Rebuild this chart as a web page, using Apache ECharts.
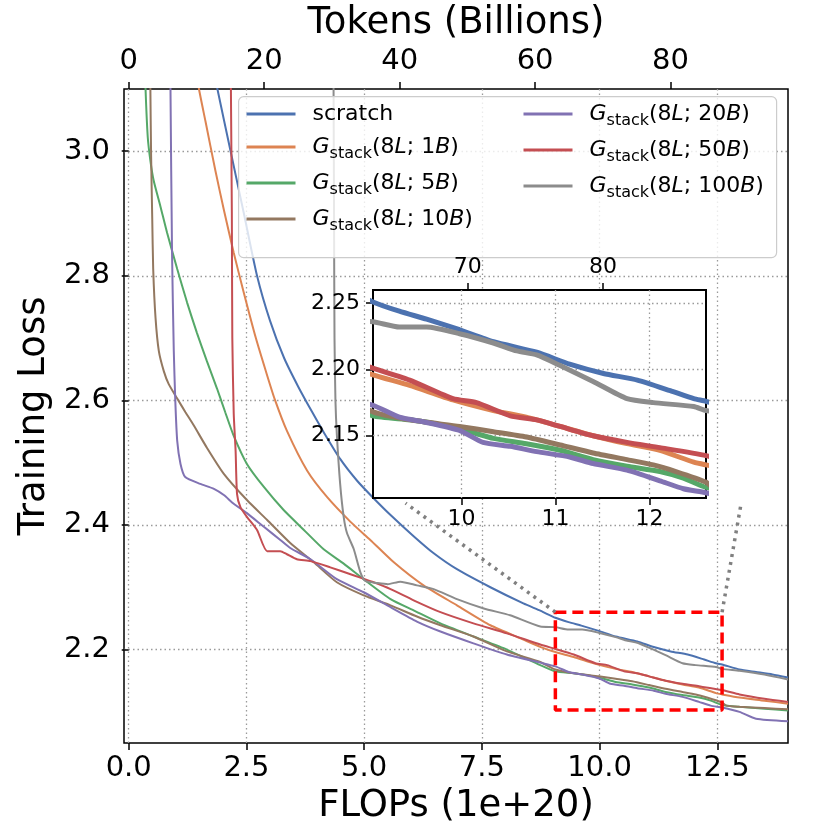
<!DOCTYPE html>
<html lang="en">
<head>
<meta charset="UTF-8">
<title>Training Loss vs FLOPs</title>
<script src="https://cdn.jsdelivr.net/npm/echarts@6/dist/echarts.min.js"></script>
<style>
    html, body { margin: 0; background: #fff; }
    #chart { width: 830px; height: 830px; }
</style>
</head>
<body>
<div id="chart"></div>
<script>
// curves: [FLOPs (1e+20), training loss]
const scratch = [[1.60,3.20],[1.88,3.101],[2.16,3.001],[2.44,2.902],[2.725,2.800],[3.0,2.728],[3.3,2.668],[3.6,2.622],[3.89,2.582],[4.14,2.549],[4.49,2.506],[4.85,2.471],[5.20,2.443],[5.56,2.416],[6.05,2.382],[6.47,2.355],[6.97,2.329],[7.68,2.300],[8.38,2.274],[8.75,2.262],[9.06,2.251],[9.34,2.244],[9.63,2.238],[9.98,2.230],[10.34,2.221],[10.80,2.213],[11.15,2.204],[11.51,2.197],[11.87,2.192],[12.22,2.184],[12.47,2.178],[12.60,2.176],[12.97,2.168],[13.32,2.164],[13.67,2.160],[14.0,2.155]];
const g1B = [[1.30,3.20],[1.49,3.101],[1.63,3.048],[1.84,2.969],[2.02,2.906],[2.23,2.837],[2.44,2.774],[2.70,2.700],[2.94,2.640],[3.10,2.602],[3.36,2.551],[3.79,2.487],[4.21,2.445],[4.71,2.405],[5.13,2.376],[5.63,2.340],[6.26,2.303],[6.97,2.271],[7.68,2.239],[8.38,2.216],[8.75,2.204],[9.06,2.196],[9.45,2.188],[9.91,2.177],[10.34,2.169],[10.69,2.164],[11.05,2.157],[11.40,2.150],[11.76,2.144],[12.11,2.139],[12.47,2.130],[12.60,2.128],[12.97,2.123],[13.5,2.118],[14.0,2.113]];
const g5B = [[0.32,3.20],[0.357,3.101],[0.405,3.022],[0.46,2.985],[0.53,2.953],[0.675,2.911],[0.815,2.869],[1.03,2.811],[1.24,2.757],[1.45,2.708],[1.66,2.663],[1.875,2.619],[2.05,2.581],[2.23,2.543],[2.51,2.498],[2.87,2.461],[3.29,2.424],[3.72,2.392],[4.14,2.361],[4.565,2.338],[4.99,2.313],[5.56,2.281],[6.05,2.263],[6.62,2.242],[7.32,2.221],[8.03,2.200],[8.74,2.175],[9.06,2.165],[9.45,2.162],[9.80,2.158],[10.09,2.153],[10.34,2.148],[10.69,2.144],[11.05,2.139],[11.40,2.132],[11.76,2.127],[12.11,2.123],[12.36,2.118],[12.60,2.111],[12.97,2.108],[13.5,2.105],[14.0,2.102]];
const g10B = [[0.45,3.20],[0.46,3.101],[0.475,2.996],[0.50,2.890],[0.52,2.811],[0.57,2.732],[0.64,2.679],[0.745,2.647],[0.85,2.626],[1.03,2.603],[1.205,2.581],[1.38,2.560],[1.66,2.524],[2.02,2.482],[2.51,2.440],[2.94,2.408],[3.43,2.371],[3.93,2.340],[4.42,2.308],[4.99,2.287],[5.56,2.271],[6.12,2.253],[6.62,2.239],[7.32,2.221],[8.03,2.197],[8.74,2.180],[9.06,2.168],[9.45,2.162],[9.98,2.157],[10.34,2.153],[10.69,2.149],[11.05,2.143],[11.40,2.137],[11.76,2.132],[12.04,2.128],[12.28,2.123],[12.60,2.115],[12.69,2.110],[12.97,2.108],[13.5,2.106],[14.0,2.104]];
const g20B = [[0.88,3.20],[0.887,3.101],[0.92,2.837],[0.957,2.680],[0.99,2.598],[1.03,2.535],[1.10,2.498],[1.20,2.477],[1.52,2.466],[1.81,2.458],[2.02,2.448],[2.23,2.434],[2.51,2.419],[2.87,2.397],[3.22,2.376],[3.43,2.363],[3.86,2.345],[4.42,2.313],[4.99,2.292],[5.56,2.268],[6.12,2.245],[6.62,2.229],[7.32,2.210],[8.03,2.192],[8.74,2.179],[9.06,2.173],[9.34,2.164],[9.63,2.160],[9.98,2.154],[10.23,2.145],[10.52,2.142],[10.80,2.138],[11.15,2.134],[11.40,2.129],[11.76,2.124],[12.11,2.116],[12.36,2.110],[12.60,2.107],[12.97,2.100],[13.32,2.089],[14.0,2.085]];
const g50B = [[2.16,3.20],[2.17,3.101],[2.19,2.900],[2.20,2.700],[2.23,2.579],[2.27,2.519],[2.30,2.450],[2.37,2.429],[2.51,2.413],[2.725,2.392],[2.94,2.358],[3.22,2.358],[3.36,2.353],[3.57,2.345],[3.86,2.342],[4.28,2.332],[4.71,2.321],[5.20,2.308],[5.56,2.297],[6.05,2.279],[6.62,2.260],[7.32,2.242],[8.03,2.226],[8.74,2.208],[9.06,2.201],[9.45,2.192],[9.91,2.178],[10.16,2.175],[10.52,2.165],[10.80,2.162],[11.05,2.157],[11.40,2.150],[11.76,2.145],[12.11,2.141],[12.60,2.135],[12.97,2.128],[13.5,2.121],[14.0,2.116]];
const g100B = [[4.34,3.20],[4.35,3.101],[4.36,2.900],[4.37,2.700],[4.39,2.600],[4.42,2.545],[4.49,2.466],[4.565,2.413],[4.635,2.387],[4.78,2.361],[4.92,2.324],[5.025,2.310],[5.27,2.307],[5.50,2.305],[5.77,2.309],[6.12,2.303],[6.475,2.297],[6.97,2.281],[7.54,2.266],[8.10,2.255],[8.74,2.237],[9.06,2.236],[9.34,2.232],[9.63,2.232],[9.98,2.227],[10.34,2.220],[10.59,2.214],[10.80,2.211],[11.05,2.203],[11.40,2.191],[11.76,2.178],[12.04,2.175],[12.47,2.172],[12.60,2.169],[12.97,2.166],[13.5,2.160],[14.0,2.152]];

const curves = [scratch, g1B, g5B, g10B, g20B, g50B, g100B];
const names = ['scratch', 'G(8L; 1B)', 'G(8L; 5B)', 'G(8L; 10B)', 'G(8L; 20B)', 'G(8L; 50B)', 'G(8L; 100B)'];
const colors = ['#4C72B0', '#DD8452', '#55A868', '#937860', '#8172B3', '#C44E52', '#8C8C8C'];

// axis ticks
const flopTicks = [0, 2.5, 5, 7.5, 10, 12.5];
const lossTicks = [2.2, 2.4, 2.6, 2.8, 3.0];
const tokenTicks = [0, 20, 40, 60, 80];
const insetFlopTicks = [10, 11, 12];
const insetLossTicks = [2.15, 2.20, 2.25];
const insetTokenTicks = [70, 80];

// ranges
const flopRange = [-0.1, 14.0];
const lossRange = [2.05, 3.1];
const insetX = [9.06, 12.6];
const insetY = [2.103, 2.26];
const tokensPerFlop = 6.953; // billions of tokens per 1e20 FLOPs

const FONT = 'DejaVu Sans';
const chart = echarts.init(document.getElementById('chart'));

function axis(opt) {
    const fs = opt.fontSize;
    return {
        type: 'value',
        gridIndex: opt.grid,
        position: opt.position,
        min: opt.min,
        max: opt.max,
        z: opt.z || 0,
        axisLine: { show: false },
        axisTick: { show: true, inside: false, length: 7, customValues: opt.ticks,
            lineStyle: { color: '#000', width: 1.5 } },
        axisLabel: { customValues: opt.ticks, formatter: opt.fmt, margin: opt.margin,
            fontSize: fs, color: '#000', fontFamily: FONT },
        splitLine: { show: !!opt.grid_lines,
            lineStyle: { color: '#9a9a9a', width: 1.3, type: [1.5, 3] } },
        name: opt.name || '',
        nameLocation: 'middle',
        nameGap: opt.nameGap || 0,
        nameTextStyle: { fontSize: 37, color: '#000', fontFamily: FONT }
    };
}

const series = [];
curves.forEach(function (d, i) {
    series.push({
        type: 'line', name: names[i], data: d, xAxisIndex: 0, yAxisIndex: 0,
        symbol: 'none', z: 2, clip: true, smooth: 0.2,
        lineStyle: { color: colors[i], width: 2 }, itemStyle: { color: colors[i] }
    });
});
curves.forEach(function (d, i) {
    series.push({
        type: 'line', name: names[i], data: d, xAxisIndex: 2, yAxisIndex: 1,
        symbol: 'none', z: 12, clip: true, smooth: 0.2,
        lineStyle: { color: colors[i], width: 5 }, itemStyle: { color: colors[i] }
    });
});

// zoomed region marked on the main axes
series.push({
    type: 'line', name: 'zoom', xAxisIndex: 0, yAxisIndex: 0, symbol: 'none', z: 3,
    data: [[insetX[0], insetY[1]], [insetX[1], insetY[1]], [insetX[1], insetY[0]],
           [insetX[0], insetY[0]], [insetX[0], insetY[1]]],
    lineStyle: { color: '#ff0000', width: 3.5, type: [11, 6] },
    markLine: {
        silent: true, symbol: ['none', 'none'], label: { show: false },
        lineStyle: { color: '#808080', width: 3.5, type: [3, 5] },
        data: [
            [{ coord: [insetX[0], insetY[1]] }, { coord: [5.88, 2.435] }],
            [{ coord: [insetX[1], insetY[1]] }, { coord: [13.01, 2.437] }]
        ]
    }
});

const rich = {
    n: { fontSize: 22, fontFamily: FONT, color: '#000', lineHeight: 30 },
    i: { fontSize: 22, fontFamily: FONT, fontStyle: 'italic', color: '#000', lineHeight: 30 },
    s: { fontSize: 16, fontFamily: FONT, color: '#000', lineHeight: 30, verticalAlign: 'bottom' }
};
function legendLabel(name) {
    if (name === 'scratch') return '{n|scratch}';
    const size = name.match(/; (\d+)B/)[1];
    return '{i|G}{s|stack}{n|(8}{i|L}{n|; ' + size + '}{i|B}{n|)}';
}
function legend(data, left) {
    return {
        data: data, left: left, top: 102, orient: 'vertical', padding: 0,
        itemWidth: 49, itemHeight: 30, itemGap: 9, selectedMode: false, z: 6,
        itemStyle: { opacity: 0 },
        lineStyle: { width: 3 },
        formatter: legendLabel,
        textStyle: { rich: rich, padding: [0, 0, 0, 12] }
    };
}

const option = {
    backgroundColor: '#fff',
    animation: false,
    grid: [
        { left: 124, top: 82, width: 664, height: 666, show: true,
          borderColor: '#000', borderWidth: 1.5, backgroundColor: 'transparent' },
        { left: 373, top: 290, width: 333, height: 208, show: true, z: 10,
          borderColor: '#000', borderWidth: 2, backgroundColor: '#fff' }
    ],
    xAxis: [
        axis({ grid: 0, position: 'bottom', min: flopRange[0], max: flopRange[1], ticks: flopTicks,
               fmt: v => v.toFixed(1), fontSize: 29, margin: 11, grid_lines: true,
               name: 'FLOPs (1e+20)', nameGap: 45 }),
        axis({ grid: 0, position: 'top', min: flopRange[0] * tokensPerFlop, max: flopRange[1] * tokensPerFlop,
               ticks: tokenTicks, fmt: v => String(v), fontSize: 29, margin: 13,
               name: 'Tokens (Billions)', nameGap: 46 }),
        axis({ grid: 1, position: 'bottom', min: insetX[0], max: insetX[1], ticks: insetFlopTicks,
               fmt: v => String(v), fontSize: 22, margin: 10, grid_lines: true, z: 11 }),
        axis({ grid: 1, position: 'top', min: insetX[0] * tokensPerFlop, max: insetX[1] * tokensPerFlop,
               ticks: insetTokenTicks, fmt: v => String(v), fontSize: 22, margin: 12, z: 11 })
    ],
    yAxis: [
        axis({ grid: 0, position: 'left', min: lossRange[0], max: lossRange[1], ticks: lossTicks,
               fmt: v => v.toFixed(1), fontSize: 29, margin: 14, grid_lines: true,
               name: 'Training Loss', nameGap: 69 }),
        axis({ grid: 1, position: 'left', min: insetY[0], max: insetY[1], ticks: insetLossTicks,
               fmt: v => v.toFixed(2), fontSize: 22, margin: 13, grid_lines: true, z: 11 })
    ],
    legend: [legend(names.slice(0, 4), 245), legend(names.slice(4), 522)],
    graphic: {
        elements: [{
            type: 'rect', left: 238, top: 96, z: 5,
            shape: { width: 538, height: 161, r: 5 },
            style: { fill: 'rgba(255,255,255,0.8)', stroke: '#cccccc', lineWidth: 1.2 }
        }]
    },
    series: series
};

chart.setOption(option);
</script>
</body>
</html>
